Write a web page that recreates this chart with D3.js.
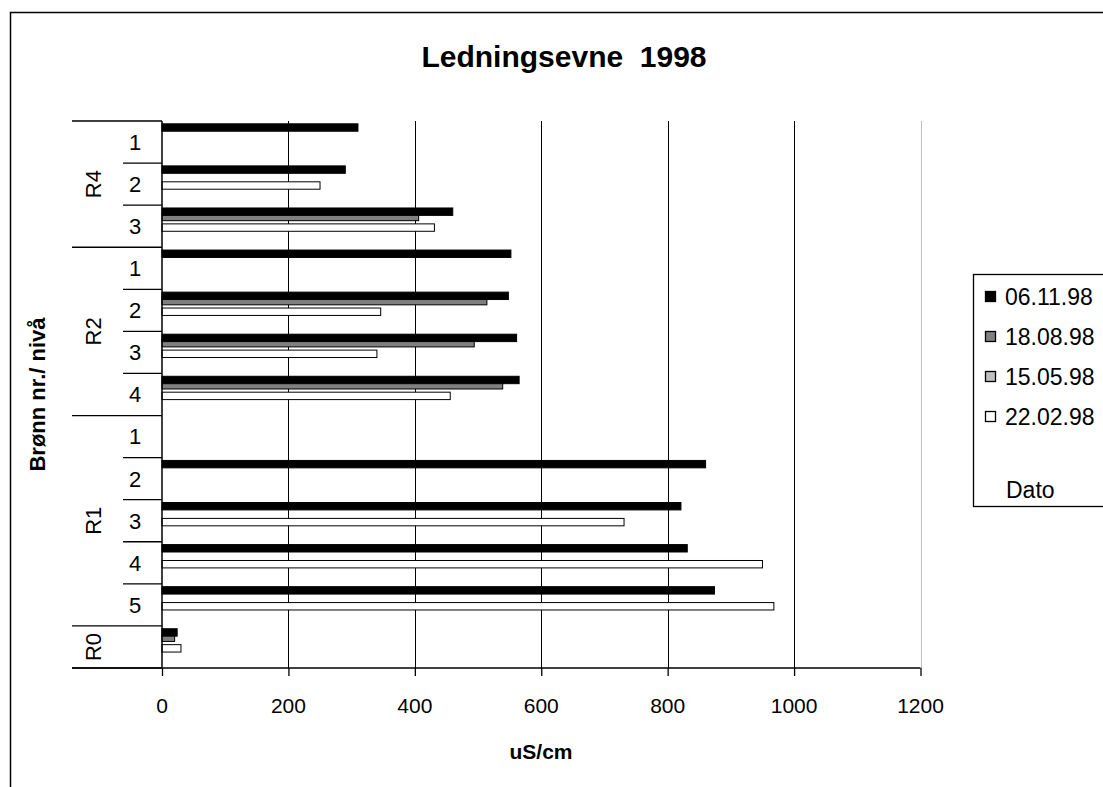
<!DOCTYPE html>
<html>
<head>
<meta charset="utf-8">
<script src="https://cdn.jsdelivr.net/npm/d3@7"></script>
<style>
  html, body { margin: 0; padding: 0; background: #fff; }
  svg { display: block; font-family: "Liberation Sans", Arial, sans-serif; }
  text { white-space: pre; }
</style>
</head>
<body>
<svg id="chart" width="1103" height="787"></svg>
<script>
// Wells (groups) and measuring levels, top to bottom
const groups = ["R4", "R2", "R1", "R0"];
const levels = [["1", "2", "3"], ["1", "2", "3", "4"], ["1", "2", "3", "4", "5"], [""]];

// Sampling dates, in legend order
const seriesNames = ["06.11.98", "18.08.98", "15.05.98", "22.02.98"];
const seriesFill = ["#000000", "#808080", "#c0c0c0", "#ffffff"];

// Conductivity (uS/cm) per category, top to bottom: R4 1-3, R2 1-4, R1 1-5, R0
const v061198 = [310, 290, 460, 552, 548, 561, 565, null, 860, 821, 831, 874, 24];
const v180898 = [null, null, 406, null, 514, 494, 539, null, null, null, null, null, 20];
const v150598 = [null, null, null, null, null, null, null, null, null, null, null, null, null];
const v220298 = [null, 250, 431, null, 346, 340, 456, null, null, 731, 950, 968, 30];

const xTicks = [0, 200, 400, 600, 800, 1000, 1200];

const title = "Ledningsevne  1998";
const xTitle = "uS/cm";
const yTitle = "Brønn nr./ nivå";
const legendTitle = "Dato";

// ---- build category list ----
const categories = [];
groups.forEach((g, gi) => levels[gi].forEach(l => categories.push({ key: g + "-" + l, group: g, level: l })));
const seriesValues = [v061198, v180898, v150598, v220298];

const svg = d3.select("#chart");

// outer chart frame
svg.append("rect")
  .attr("x", 10.5).attr("y", 12.5).attr("width", 1120).attr("height", 800)
  .attr("fill", "#fff").attr("stroke", "#000").attr("stroke-width", 1.5);

const plot = { left: 162, right: 920.5, top: 121, bottom: 668 };

const x = d3.scaleLinear().domain([0, 1200]).range([plot.left, plot.right]);
const y = d3.scaleBand().domain(categories.map(c => c.key)).range([plot.top, plot.bottom]).padding(0);
const step = y.bandwidth();
const barH = step * 0.176;
const sy = d3.scalePoint().domain(seriesNames).range([step * 0.067, step * 0.067 + step * 0.378]);

// vertical gridlines
svg.append("g").selectAll("line")
  .data(xTicks.filter(t => t > 0))
  .join("line")
  .attr("x1", d => Math.round(x(d)) + 0.5).attr("x2", d => Math.round(x(d)) + 0.5)
  .attr("y1", plot.top).attr("y2", plot.bottom)
  .attr("stroke", d => d === 1200 ? "#c0c0c0" : "#000")
  .attr("stroke-width", 1);

// bars: later dates drawn last so they sit on top
const barsG = svg.append("g");
for (let si = seriesNames.length - 1; si >= 0; si--) {
  const name = seriesNames[si];
  const rows = categories.map((c, i) => ({ c, v: seriesValues[si][i] })).filter(d => d.v != null);
  barsG.append("g").selectAll("rect")
    .data(rows)
    .join("rect")
    .attr("x", x(0))
    .attr("y", d => y(d.c.key) + sy(name))
    .attr("width", d => x(d.v) - x(0))
    .attr("height", barH)
    .attr("fill", seriesFill[si])
    .attr("stroke", "#000")
    .attr("stroke-width", 1);
}

// x axis line with ticks
const xAxis = d3.axisBottom(x).tickValues(xTicks).tickSize(8).tickFormat("");
const xg = svg.append("g").attr("transform", `translate(0,${plot.bottom})`).call(xAxis);
xg.select(".domain").remove();
xg.selectAll(".tick line").attr("stroke", "#000").attr("stroke-width", 1.3);
svg.append("line")
  .attr("x1", 72).attr("x2", plot.right).attr("y1", plot.bottom).attr("y2", plot.bottom)
  .attr("stroke", "#000").attr("stroke-width", 1.5);

// tick labels
svg.append("g").selectAll("text")
  .data(xTicks)
  .join("text")
  .attr("x", d => x(d)).attr("y", 713)
  .attr("text-anchor", "middle")
  .attr("font-size", 21)
  .attr("fill", "#000")
  .text(d => d);

// category axis (vertical line)
svg.append("line")
  .attr("x1", plot.left).attr("x2", plot.left).attr("y1", plot.top).attr("y2", plot.bottom)
  .attr("stroke", "#000").attr("stroke-width", 1.5);

// group boundary lines (outer level)
const groupBounds = [];
let idx = 0;
groups.forEach((g, gi) => {
  const first = categories[idx].key;
  const last = categories[idx + levels[gi].length - 1].key;
  groupBounds.push({ g, top: y(first), bottom: y(last) + step });
  idx += levels[gi].length;
});
const outerY = [plot.top].concat(groupBounds.map(b => b.bottom));
svg.append("g").selectAll("line")
  .data(outerY)
  .join("line")
  .attr("x1", 72).attr("x2", plot.left)
  .attr("y1", d => d).attr("y2", d => d)
  .attr("stroke", "#000").attr("stroke-width", 1.3);

// level boundary lines (inner level)
const innerY = [];
categories.forEach((c, i) => {
  if (i > 0 && categories[i - 1].group === c.group) innerY.push(y(c.key));
});
svg.append("g").selectAll("line")
  .data(innerY)
  .join("line")
  .attr("x1", 123).attr("x2", plot.left)
  .attr("y1", d => d).attr("y2", d => d)
  .attr("stroke", "#000").attr("stroke-width", 1.3);

// level labels
svg.append("g").selectAll("text")
  .data(categories.filter(c => c.level !== ""))
  .join("text")
  .attr("x", 135).attr("y", c => y(c.key) + step / 2)
  .attr("dy", "0.36em")
  .attr("text-anchor", "middle")
  .attr("font-size", 22)
  .text(c => c.level);

// group labels (rotated)
svg.append("g").selectAll("text")
  .data(groupBounds)
  .join("text")
  .attr("transform", b => `translate(93,${(b.top + b.bottom) / 2}) rotate(-90)`)
  .attr("dy", "0.36em")
  .attr("text-anchor", "middle")
  .attr("font-size", 22)
  .text(b => b.g);

// titles
svg.append("text")
  .attr("x", 564).attr("y", 67)
  .attr("text-anchor", "middle")
  .attr("font-size", 30).attr("font-weight", "bold")
  .text(title);

svg.append("text")
  .attr("x", 541).attr("y", 759)
  .attr("text-anchor", "middle")
  .attr("font-size", 21).attr("font-weight", "bold")
  .text(xTitle);

svg.append("text")
  .attr("transform", `translate(37,${(plot.top + plot.bottom) / 2}) rotate(-90)`)
  .attr("dy", "0.36em")
  .attr("text-anchor", "middle")
  .attr("font-size", 22).attr("font-weight", "bold")
  .text(yTitle);

// legend
const lg = svg.append("g");
lg.append("rect")
  .attr("x", 973.5).attr("y", 274.5).attr("width", 160).attr("height", 232)
  .attr("fill", "#fff").attr("stroke", "#000").attr("stroke-width", 1.3);
const ly = d3.scalePoint().domain(seriesNames).range([297, 417]);
const items = lg.selectAll("g.item").data(seriesNames).join("g").attr("class", "item");
items.append("rect")
  .attr("x", 985.5).attr("y", d => ly(d) - 5.5)
  .attr("width", 10).attr("height", 10)
  .attr("fill", (d, i) => seriesFill[i])
  .attr("stroke", "#000").attr("stroke-width", 1.3);
items.append("text")
  .attr("x", 1005).attr("y", d => ly(d))
  .attr("dy", "0.36em")
  .attr("font-size", 23)
  .text(d => d);
lg.append("text")
  .attr("x", 1006).attr("y", 498)
  .attr("font-size", 23)
  .text(legendTitle);
</script>
</body>
</html>
